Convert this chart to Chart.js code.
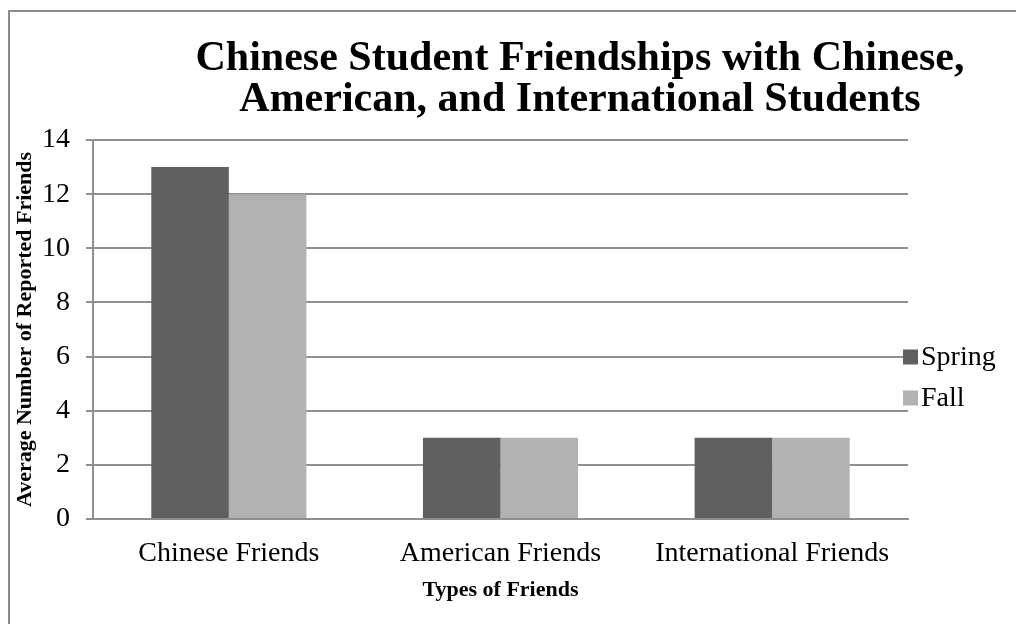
<!DOCTYPE html>
<html>
<head>
<meta charset="utf-8">
<script src="https://cdn.jsdelivr.net/npm/chart.js@4.4.1/dist/chart.umd.min.js"></script>
<style>
  html, body { margin: 0; padding: 0; background: #fff; overflow: hidden; }
  #wrap { width: 1016px; height: 624px; position: relative; }
</style>
</head>
<body>
<div id="wrap"><canvas id="c" width="1016" height="624"></canvas></div>
<script>
// ---- data ----
const categories = ['Chinese Friends', 'American Friends', 'International Friends'];
const seriesNames = ['Spring', 'Fall'];
const springValues = [13, 3, 3];
const fallValues = [12, 3, 3];
const yTickValues = [0, 2, 4, 6, 8, 10, 12, 14];
const titleLines = ['Chinese Student Friendships with Chinese,', 'American, and International Students'];
const yAxisTitle = 'Average Number of Reported Friends';
const xAxisTitle = 'Types of Friends';

// ---- styles ----
const SERIF = '"Liberation Serif", "Times New Roman", serif';
const seriesColors = ['#606060', '#b2b2b2'];
const gridColor = '#8f8f8f';

const framePlugin = {
  id: 'frame',
  beforeDraw(chart) {
    const ctx = chart.ctx;
    ctx.save();
    ctx.fillStyle = '#ffffff';
    ctx.fillRect(0, 0, chart.width, chart.height);
    ctx.strokeStyle = '#8a8a8a';
    ctx.lineWidth = 2;
    ctx.beginPath();
    ctx.moveTo(9, chart.height);
    ctx.lineTo(9, 11);
    ctx.lineTo(chart.width, 11);
    ctx.stroke();
    ctx.restore();
  }
};

const titlePlugin = {
  id: 'customTitle',
  afterDraw(chart) {
    const ctx = chart.ctx;
    ctx.save();
    ctx.fillStyle = '#000';
    ctx.font = 'bold 42px ' + SERIF;
    ctx.textAlign = 'center';
    ctx.textBaseline = 'alphabetic';
    const baselines = [70, 111];
    titleLines.forEach((t, i) => ctx.fillText(t, 580, baselines[i]));
    ctx.restore();
  }
};

const legendPlugin = {
  id: 'customLegend',
  afterDraw(chart) {
    const ctx = chart.ctx;
    ctx.save();
    ctx.font = '28px ' + SERIF;
    ctx.textAlign = 'left';
    ctx.textBaseline = 'middle';
    const rows = [357, 398];
    chart.data.datasets.forEach((ds, i) => {
      const y = rows[i];
      ctx.fillStyle = ds.backgroundColor;
      ctx.fillRect(903, y - 7.5, 15, 15);
      ctx.fillStyle = '#000';
      ctx.fillText(ds.label, 921, y + 1);
    });
    ctx.restore();
  }
};

new Chart(document.getElementById('c'), {
  type: 'bar',
  data: {
    labels: categories,
    datasets: [
      { label: seriesNames[0], data: springValues, backgroundColor: seriesColors[0] },
      { label: seriesNames[1], data: fallValues, backgroundColor: seriesColors[1] }
    ]
  },
  options: {
    responsive: false,
    animation: false,
    devicePixelRatio: 1,
    categoryPercentage: 0.571,
    barPercentage: 1.0,
    layout: { padding: { top: 140, right: 108, left: 0, bottom: 0 } },
    plugins: {
      legend: { display: false },
      title: { display: false },
      tooltip: { enabled: false }
    },
    scales: {
      x: {
        grid: { display: false, drawTicks: false },
        border: { display: true, color: gridColor, width: 2 },
        ticks: { color: '#000', font: { family: SERIF, size: 28 }, padding: 18, maxRotation: 0 },
        title: { display: true, text: xAxisTitle, color: '#000',
                 font: { family: SERIF, size: 22, weight: 'bold' }, padding: { top: 0, bottom: 20 } },
        afterFit(scale) { scale.height = 105; }
      },
      y: {
        min: 0, max: 14,
        afterBuildTicks(scale) { scale.ticks = yTickValues.map(v => ({ value: v })); },
        grid: { color: gridColor, lineWidth: 2, tickLength: 7, drawTicks: true },
        border: { display: true, color: gridColor, width: 2 },
        ticks: { color: '#000', font: { family: SERIF, size: 28 }, padding: 16 },
        title: { display: true, text: yAxisTitle, color: '#000',
                 font: { family: SERIF, size: 22, weight: 'bold' }, padding: { top: 12, bottom: 0 } },
        afterFit(scale) { scale.width = 93; }
      }
    }
  },
  plugins: [framePlugin, titlePlugin, legendPlugin]
});
</script>
</body>
</html>
